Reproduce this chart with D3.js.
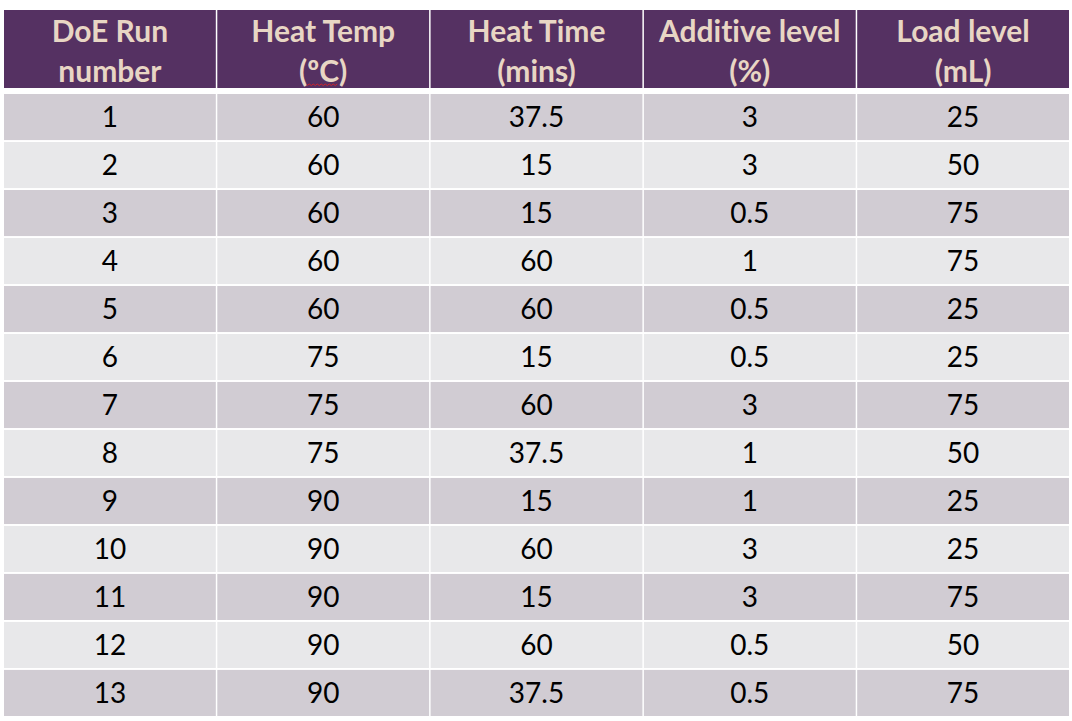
<!DOCTYPE html>
<html>
<head>
<meta charset="utf-8">
<script src="https://cdn.jsdelivr.net/npm/d3@7"></script>
<style>
  html, body { margin: 0; padding: 0; background: #ffffff; }
  svg { display: block; }
  text { font-variant-ligatures: none; }
</style>
</head>
<body>
<svg id="chart" width="1072" height="721"></svg>
<script>
// ---- data ----
const headerLine1 = ["DoE Run", "Heat Temp", "Heat Time", "Additive level", "Load level"];
const headerLine2 = ["number", "(ºC)", "(mins)", "(%)", "(mL)"];
const runNumber   = ["1","2","3","4","5","6","7","8","9","10","11","12","13"];
const heatTemp    = ["60","60","60","60","60","75","75","75","90","90","90","90","90"];
const heatTime    = ["37.5","15","15","60","60","15","60","37.5","15","60","15","60","37.5"];
const additive    = ["3","3","0.5","1","0.5","0.5","3","1","1","3","3","0.5","0.5"];
const loadLevel   = ["25","50","75","75","25","25","75","50","25","25","75","50","75"];

const columns = [runNumber, heatTemp, heatTime, additive, loadLevel];

// ---- layout ----
const svg = d3.select("#chart");
const W = 1072, H = 721;
svg.append("rect").attr("width", W).attr("height", H).attr("fill", "#ffffff");

const x = d3.scaleBand().domain(d3.range(columns.length)).range([4, 1069]).paddingInner(0.007);
const y = d3.scaleBand().domain(d3.range(runNumber.length)).range([94, 716]).paddingInner(0.04);
const headerTop = 10, headerBottom = 88;

const font = "Lato, 'Open Sans', sans-serif";

// header
const hdr = svg.append("g");
hdr.selectAll("rect").data(d3.range(columns.length)).join("rect")
  .attr("x", d => x(d)).attr("y", headerTop)
  .attr("width", x.bandwidth()).attr("height", headerBottom - headerTop)
  .attr("fill", "#553162");

hdr.selectAll("text.l1").data(headerLine1).join("text")
  .attr("class", "l1")
  .attr("x", (d, i) => x(i) + x.bandwidth() / 2).attr("y", 42)
  .attr("text-anchor", "middle")
  .attr("font-family", font).attr("font-weight", 700).attr("font-size", 30)
  .attr("fill", "#E8D6C4").text(d => d);

const l2 = hdr.selectAll("text.l2").data(headerLine2).join("text")
  .attr("class", "l2")
  .attr("x", (d, i) => x(i) + x.bandwidth() / 2).attr("y", 82)
  .attr("text-anchor", "middle")
  .attr("font-family", font).attr("font-weight", 700).attr("font-size", 30)
  .attr("fill", "#E8D6C4").text(d => d);

// spell-check wavy underline under "ºC"
const tNode = l2.nodes()[1];
try {
  const sx = tNode.getStartPositionOfChar(1).x;
  const ex = tNode.getEndPositionOfChar(2).x;
  const wy = 85.5;
  let p = `M${sx},${wy}`;
  let k = 0;
  for (let xx = sx + 2; xx <= ex; xx += 2) { k++; p += ` L${xx},${wy + (k % 2 ? -1.5 : 0)}`; }
  hdr.append("path").attr("d", p).attr("fill", "none").attr("stroke", "#d0242b").attr("stroke-width", 1);
} catch (e) {}

// body
const body = svg.append("g");
const cells = [];
columns.forEach((col, c) => col.forEach((v, r) => cells.push({ c, r, v })));

body.selectAll("rect").data(cells).join("rect")
  .attr("x", d => x(d.c)).attr("y", d => y(d.r))
  .attr("width", x.bandwidth()).attr("height", y.bandwidth())
  .attr("fill", d => d.r % 2 === 0 ? "#D1CCD3" : "#E8E8EA");

body.selectAll("text").data(cells).join("text")
  .attr("x", d => x(d.c) + x.bandwidth() / 2)
  .attr("y", d => y(d.r) + y.bandwidth() / 2 + 10)
  .attr("text-anchor", "middle")
  .attr("font-family", font).attr("font-size", 28)
  .attr("fill", "#000000").text(d => d.v);
</script>
</body>
</html>
